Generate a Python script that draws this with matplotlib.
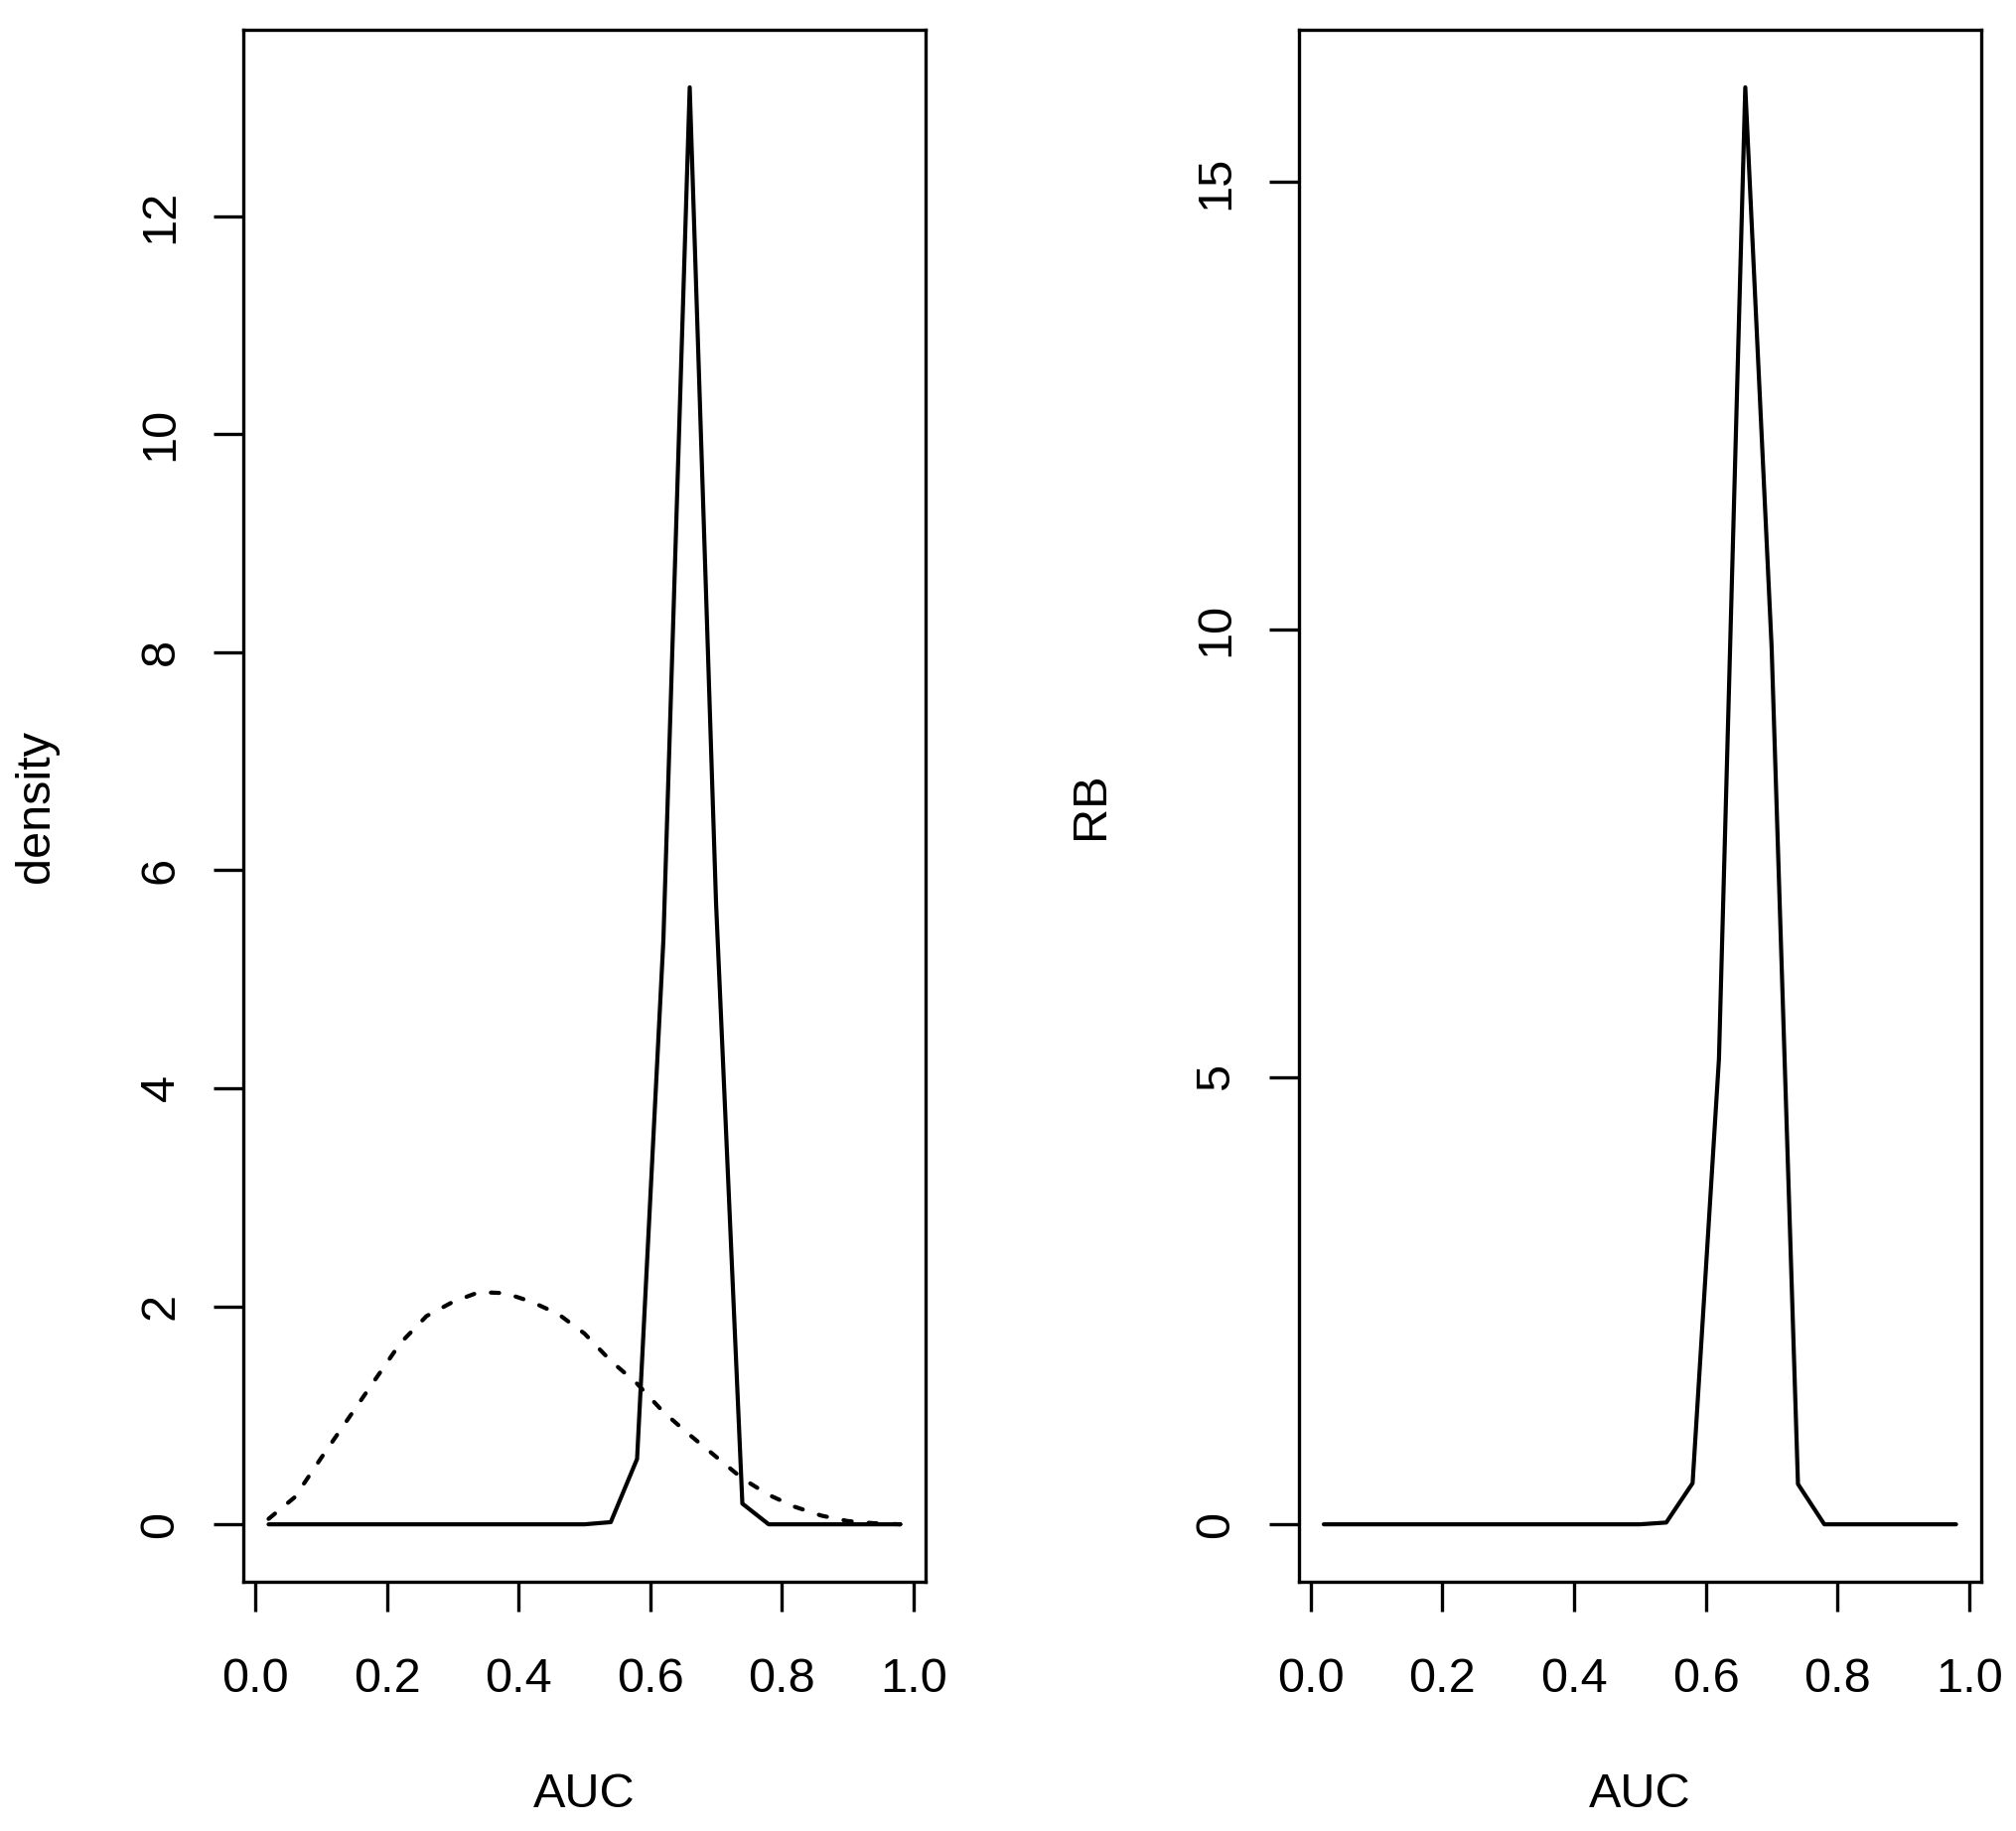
import matplotlib
matplotlib.use("Agg")
import matplotlib.pyplot as plt

plt.rcParams['font.family'] = ['Liberation Sans', 'DejaVu Sans']

# grid of AUC values
auc = [0.02, 0.06, 0.10, 0.14, 0.18, 0.22, 0.26, 0.30, 0.34, 0.38, 0.42, 0.46, 0.50,
       0.54, 0.58, 0.62, 0.66, 0.70, 0.74, 0.78, 0.82, 0.86, 0.90, 0.94, 0.98]

# posterior density (solid) and prior density (dashed)
posterior = [0, 0, 0, 0, 0, 0, 0, 0, 0, 0, 0, 0, 0,
             0.02, 0.60, 5.36, 13.18, 5.70, 0.19, 0, 0, 0, 0, 0, 0]
prior = [0.05, 0.25, 0.61, 0.96, 1.31, 1.66, 1.91, 2.04, 2.13, 2.12, 2.04, 1.93, 1.75,
         1.50, 1.29, 1.03, 0.82, 0.62, 0.42, 0.27, 0.16, 0.08, 0.03, 0.01, 0.0]

# relative belief ratio
rb = [0, 0, 0, 0, 0, 0, 0, 0, 0, 0, 0, 0, 0,
      0.02, 0.46, 5.2, 16.06, 9.8, 0.45, 0, 0, 0, 0, 0, 0]

x_ticks = [0.0, 0.2, 0.4, 0.6, 0.8, 1.0]
x_labels = ["0.0", "0.2", "0.4", "0.6", "0.8", "1.0"]
y_ticks_left = [0, 2, 4, 6, 8, 10, 12]
y_ticks_right = [0, 5, 10, 15]

FS = 17.5
LW = 1.5


def r_lim(lo, hi):
    # R style 4% padding
    d = (hi - lo) * 0.04
    return lo - d, hi + d


def style_axes(ax, yticks, ylabel):
    for s in ax.spines.values():
        s.set_linewidth(1.2)
    ax.set_xlim(*r_lim(min(auc), max(auc)))
    ax.set_xticks(x_ticks)
    ax.set_xticklabels(x_labels)
    ax.set_yticks(yticks)
    ax.set_yticklabels([str(t) for t in yticks])
    ax.tick_params(axis='both', direction='out', length=10.8, width=1.2,
                   labelsize=FS, color='black')
    ax.tick_params(axis='x', pad=16.5)
    ax.tick_params(axis='y', pad=11, labelrotation=90)
    for lab in ax.get_yticklabels():
        lab.set_va('center')
        lab.set_ha('right')
    ax.set_xlabel("AUC", fontsize=FS, va='center')
    ax.xaxis.set_label_coords(0.5, -0.137)
    ax.set_ylabel(ylabel, fontsize=FS, va='center')
    ax.yaxis.set_label_coords(-0.304, 0.5)


fig = plt.figure(figsize=(10.15, 9.22), dpi=200)
ax1 = fig.add_axes([0.1207, 0.1361, 0.3384, 0.8476])
ax2 = fig.add_axes([0.6441, 0.1361, 0.3387, 0.8476])

ax1.plot(auc, posterior, color='black', lw=LW, solid_capstyle='round')
ax1.plot(auc, prior, color='black', lw=LW, linestyle=(0, (2, 4.1)),
         dash_capstyle='round')
ax1.set_ylim(*r_lim(0, max(posterior)))
style_axes(ax1, y_ticks_left, "density")

ax2.plot(auc, rb, color='black', lw=LW, solid_capstyle='round')
ax2.set_ylim(*r_lim(0, max(rb)))
style_axes(ax2, y_ticks_right, "RB")

fig.savefig("out.png", dpi=200)
